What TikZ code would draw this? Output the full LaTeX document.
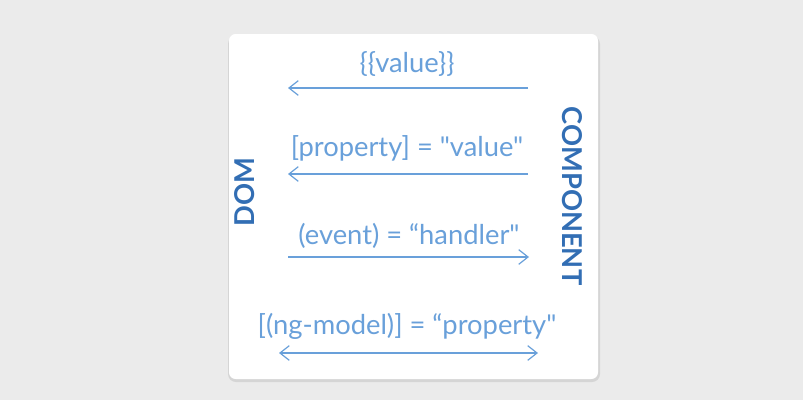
\documentclass[tikz,border=0pt]{standalone}
\usepackage{fontspec}
\setmainfont{Lato}[Ligatures=TeXOff]
\usetikzlibrary{arrows.meta}
\definecolor{pagebg}{RGB}{235,235,235}
\definecolor{inkblue}{RGB}{105,160,218}
\definecolor{sideblue}{RGB}{50,110,180}
\tikzset{
  lbl/.style={text=inkblue, font=\fontsize{20.5}{24}\selectfont, inner sep=0pt},
  side/.style={text=sideblue, font=\fontsize{20.5}{24}\selectfont\bfseries, inner sep=0pt},
  barb/.tip={Straight Barb[length=7pt,width=11pt,line width=0.9pt]},
  flow/.style={draw=inkblue, line width=1.1pt, -barb},
  both/.style={draw=inkblue, line width=1.1pt, barb-barb},
}
\begin{document}
\begin{tikzpicture}[x=0.75pt,y=-0.75pt]
  % page and card
  \fill[pagebg] (0,0) rectangle (803,400);
  \useasboundingbox (0,0) rectangle (803,400);
  \fill[black!22, opacity=0.6, rounded corners=6] (228,36) rectangle (600,382);
  \fill[white, rounded corners=5] (229,34) rectangle (598,379);

  % side labels
  \node[side, rotate=90] (dom) at (245,192) {DOM};
  \node[side, rotate=-90] (comp) at (572,196) {COMPONENT};

  % interpolation
  \node[lbl] (t1) at (407,64) {\{\{value\}\}};
  \coordinate (a1r) at (528,88);
  \coordinate (a1l) at (288,88);
  \draw[flow] (a1r) -- (a1l);

  % property binding
  \node[lbl] (t2) at (407,148) {[property] = "value"};
  \coordinate (a2r) at (528,174);
  \coordinate (a2l) at (288,174);
  \draw[flow] (a2r) -- (a2l);

  % event binding
  \node[lbl] (t3) at (409,236) {(event) = “handler"};
  \coordinate (a3l) at (288,257);
  \coordinate (a3r) at (529,257);
  \draw[flow] (a3l) -- (a3r);

  % two-way binding
  \node[lbl] (t4) at (407,326) {[(ng-model)] = “property"};
  \coordinate (a4l) at (279,353);
  \coordinate (a4r) at (538,353);
  \draw[both] (a4l) -- (a4r);
\end{tikzpicture}
\end{document}
